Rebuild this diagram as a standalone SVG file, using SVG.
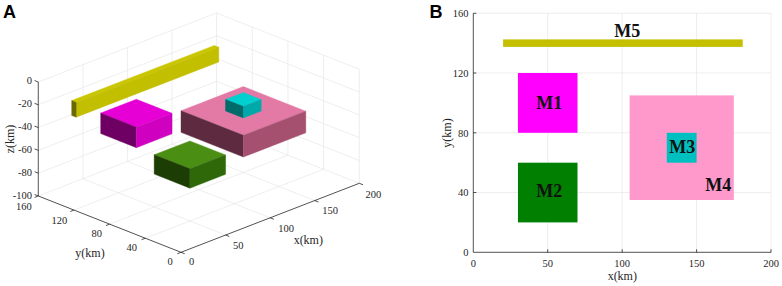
<svg xmlns="http://www.w3.org/2000/svg" width="782" height="286" viewBox="0 0 782 286">
<style>
.grid{stroke:#e6e6e6;stroke-width:0.7;fill:none}
.axis{stroke:#262626;stroke-width:0.8;fill:none}
.tk{font-family:"Liberation Serif","Times New Roman",serif;font-size:10.5px;fill:#262626}
.lab{font-family:"Liberation Serif","Times New Roman",serif;font-size:12px;fill:#262626}
.mid{text-anchor:middle}
.end{text-anchor:end}
.panel{font-family:"Liberation Sans",Arial,sans-serif;font-weight:bold;font-size:18px;fill:#000}
.mlab{font-family:"Liberation Serif","Times New Roman",serif;font-weight:bold;font-size:18px;fill:#111;text-anchor:middle}
.f{stroke-width:0.4;stroke-linejoin:round}
</style>
<rect width="782" height="286" fill="#fff"/>

<g id="panelA">
<text class="panel" x="3" y="18.3">A</text>
<g id="gridA">
<path class="grid" d="M225.6,235.05L82.9,178.73M270.15,217.8L127.4,161.48M314.7,200.55L172,144.23M359.3,183.3L216.6,126.98
M145.3,238.22L323.6,169.22M109.6,224.14L287.9,155.14M73.96,210.06L252.26,141.06M38.28,195.98L216.58,126.98
M82.9,178.73V64.73M127.4,161.48V47.48M172,144.23V30.23M216.6,126.98V12.98
M38.28,173.18L216.58,104.18M38.28,150.38L216.58,81.38M38.28,127.58L216.58,58.58M38.28,104.78L216.58,35.78M38.28,81.98L216.58,12.98
M359.3,183.3V69.3M323.6,169.22V55.22M287.9,155.14V41.14M252.26,141.06V27.06
M359.3,160.5L216.58,104.18M359.3,137.7L216.58,81.38M359.3,114.9L216.58,58.58M359.3,92.1L216.58,35.78M359.3,69.3L216.58,12.98"/>
</g>
<g id="axesA">
<path class="axis" d="M38.28,195.98V81.98M181,252.3L38.28,195.98M181,252.3L359.3,183.3"/>
<path class="axis" d="M38.28,195.98l-3.7,-1.45M38.28,173.18l-3.7,-1.45M38.28,150.38l-3.7,-1.45M38.28,127.58l-3.7,-1.45M38.28,104.78l-3.7,-1.45M38.28,81.98l-3.7,-1.45
M181,252.3l-3.7,1.45M145.3,238.22l-3.7,1.45M109.6,224.14l-3.7,1.45M73.96,210.06l-3.7,1.45M38.28,195.98l-3.7,1.45
M181,252.3l3.7,1.45M225.6,235.05l3.7,1.45M270.15,217.8l3.7,1.45M314.7,200.55l3.7,1.45M359.3,183.3l3.7,1.45"/>
<text class="tk end" x="32" y="84.4">0</text>
<text class="tk end" x="32" y="107">-20</text>
<text class="tk end" x="32" y="130.4">-40</text>
<text class="tk end" x="32" y="153">-60</text>
<text class="tk end" x="32" y="176.4">-80</text>
<text class="tk end" x="32" y="198.6">-100</text>
<text class="tk mid" x="191.7" y="265.4">0</text>
<text class="tk mid" x="238.3" y="248.7">50</text>
<text class="tk mid" x="286" y="232">100</text>
<text class="tk mid" x="330" y="214.4">150</text>
<text class="tk mid" x="373.3" y="198">200</text>
<text class="tk mid" x="170" y="265.4">0</text>
<text class="tk mid" x="131.7" y="251">40</text>
<text class="tk mid" x="96.7" y="237">80</text>
<text class="tk mid" x="59.3" y="223.7">120</text>
<text class="tk mid" x="23.8" y="210.4">160</text>
<text class="lab mid" x="308.3" y="243.5">x(km)</text>
<text class="lab mid" x="90" y="256.8">y(km)</text>
<text class="lab mid" transform="translate(14,139) rotate(-90)">z(km)</text>
</g>
<g id="boxA-M5">
<polygon class="f" fill="#cbc600" stroke="#cbc600" points="76.2,102.4 218.8,47.2 214.4,45.4 71.7,100.6"/>
<polygon class="f" fill="#c2be00" stroke="#c2be00" points="76.2,102.4 218.8,47.2 218.8,62 76.2,117.2"/>
<polygon class="f" fill="#6a6800" stroke="#6a6800" points="76.2,102.4 71.7,100.6 71.7,115.4 76.2,117.2"/>
</g>
<g id="boxA-M1">
<polygon class="f" fill="#e600d6" stroke="#e600d6" points="100.7,113.07 136.4,99.27 172.05,113.35 136.4,127.15"/>
<polygon class="f" fill="#6e0064" stroke="#6e0064" points="100.7,113.07 136.4,127.15 136.4,147.67 100.7,133.59"/>
<polygon class="f" fill="#d000c0" stroke="#d000c0" points="136.4,127.15 172.05,113.35 172.05,133.87 136.4,147.67"/>
</g>
<g id="boxA-M4">
<polygon class="f" fill="#e27aa5" stroke="#e27aa5" points="181,110.71 243.35,86.56 305.8,111.2 243.4,135.35"/>
<polygon class="f" fill="#5e2a40" stroke="#5e2a40" points="181,110.71 243.4,135.35 243.4,157.01 181,132.37"/>
<polygon class="f" fill="#a5506f" stroke="#a5506f" points="243.4,135.35 305.8,111.2 305.8,132.86 243.4,157.01"/>
</g>
<g id="boxA-M3">
<polygon class="f" fill="#00cfcf" stroke="#00cfcf" points="225.5,99.49 243.4,92.59 261.2,99.63 243.4,106.53"/>
<polygon class="f" fill="#006b6b" stroke="#006b6b" points="225.5,99.49 243.4,106.53 243.4,117.93 225.5,110.89"/>
<polygon class="f" fill="#00a9a9" stroke="#00a9a9" points="243.4,106.53 261.2,99.63 261.2,111.03 243.4,117.93"/>
</g>
<g id="boxA-M2">
<polygon class="f" fill="#4b8e14" stroke="#4b8e14" points="154.2,154.71 189.9,140.91 225.6,154.99 189.9,168.79"/>
<polygon class="f" fill="#1c3d03" stroke="#1c3d03" points="154.2,154.71 189.9,168.79 189.9,188.17 154.2,174.09"/>
<polygon class="f" fill="#2e6809" stroke="#2e6809" points="189.9,168.79 225.6,154.99 225.6,174.37 189.9,188.17"/>
</g>
</g>

<g id="panelB">
<text class="panel" x="429.5" y="18.3">B</text>
<g id="gridB">
<path class="grid" d="M547.7,13.3V252.3M622.2,13.3V252.3M696.6,13.3V252.3M771,13.3V252.3M473.3,192.5H771M473.3,132.8H771M473.3,73H771M473.3,13.3H771"/>
</g>
<g id="M5"><rect x="503.1" y="39.4" width="239.6" height="7.5" fill="#c4c000"/><text class="mlab" x="627.3" y="36.7">M5</text></g>
<g id="M1"><rect x="517.95" y="73" width="59.55" height="59.8" fill="#ff00ff"/><text class="mlab" x="549.2" y="109.3">M1</text></g>
<g id="M2"><rect x="517.95" y="162.7" width="59.55" height="59.7" fill="#007f00"/><text class="mlab" x="549.3" y="196.7">M2</text></g>
<g id="M4"><rect x="629.6" y="95.4" width="104.2" height="104.6" fill="#ff99cc"/><text class="mlab" x="718.3" y="191">M4</text></g>
<g id="M3"><rect x="666.8" y="132.8" width="29.8" height="29.9" fill="#00bfbf"/><text class="mlab" x="682.2" y="153.3">M3</text></g>
<g id="axesB">
<path class="axis" d="M473.3,13.3V252.3H771"/>
<path class="axis" d="M473.3,13.3h3M473.3,73h3M473.3,132.8h3M473.3,192.5h3M547.7,252.3v-3M622.2,252.3v-3M696.6,252.3v-3M771,252.3v-3"/>
<text class="tk mid" x="473.3" y="267">0</text>
<text class="tk mid" x="547.7" y="267">50</text>
<text class="tk mid" x="622.2" y="267">100</text>
<text class="tk mid" x="696.6" y="267">150</text>
<text class="tk mid" x="771" y="267">200</text>
<text class="tk end" x="468.5" y="17">160</text>
<text class="tk end" x="468.5" y="76.7">120</text>
<text class="tk end" x="468.5" y="136.5">80</text>
<text class="tk end" x="468.5" y="196.2">40</text>
<text class="tk end" x="468.5" y="256">0</text>
<text class="lab mid" x="622.3" y="280">x(km)</text>
<text class="lab mid" transform="translate(451,133) rotate(-90)">y(km)</text>
</g>
</g>
</svg>
